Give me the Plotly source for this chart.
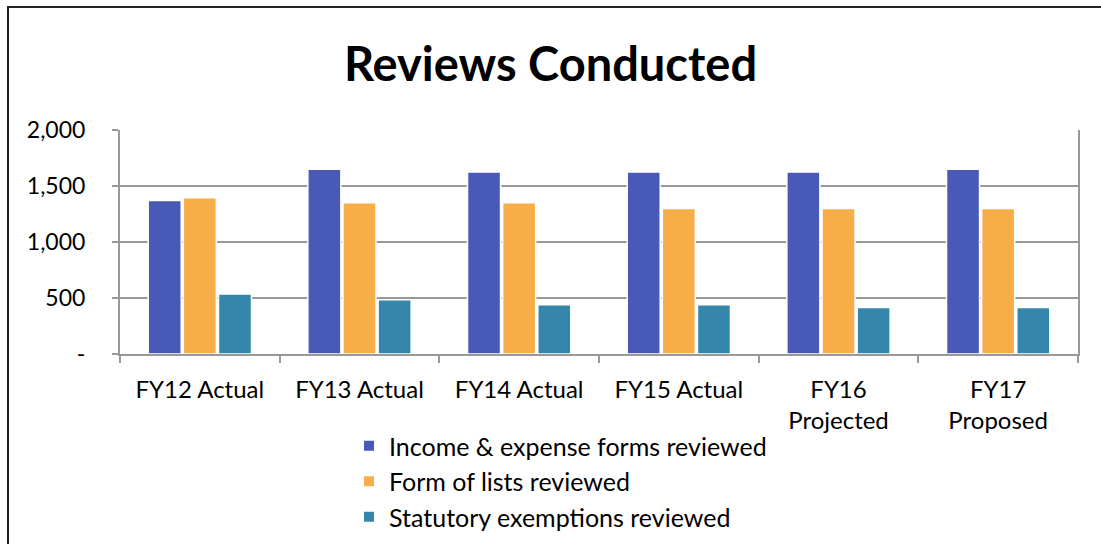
import plotly.graph_objects as go

# Review counts by fiscal year
categories = ["FY12 Actual", "FY13 Actual", "FY14 Actual", "FY15 Actual",
              "FY16<br>Projected", "FY17<br>Proposed"]
income_expense = [1370, 1650, 1625, 1625, 1625, 1650]
form_of_lists = [1395, 1350, 1350, 1300, 1300, 1300]
statutory_exemptions = [535, 485, 440, 440, 415, 415]

y_tick_vals = [0, 500, 1000, 1500, 2000]
y_tick_text = ["-", "500", "1,000", "1,500", "2,000"]

series = [
    ("Income & expense forms reviewed", income_expense, "#4859B8"),
    ("Form of lists reviewed", form_of_lists, "#F7AD48"),
    ("Statutory exemptions reviewed", statutory_exemptions, "#3486AA"),
]

FONT = "Lato, 'Source Sans Pro', Calibri, sans-serif"

fig = go.Figure()
for name, vals, color in series:
    fig.add_trace(go.Bar(
        x=categories, y=vals, name=name,
        marker=dict(color=color, line=dict(color="white", width=1.5)),
    ))

W, H = 1101, 544
L, R, T, B = 120, 23, 130, 190
pw, ph = W - L - R, H - T - B

fig.update_layout(
    width=W, height=H,
    margin=dict(l=L, r=R, t=T, b=B, autoexpand=False),
    paper_bgcolor="white", plot_bgcolor="white",
    font=dict(family=FONT, size=24, color="black"),
    barmode="group", bargap=0.34, bargroupgap=0.06,
    title=dict(text="<b>Reviews Conducted</b>", x=0.5, xanchor="center",
               y=1 - 65 / H, yanchor="middle", yref="container",
               font=dict(family=FONT, size=47, color="black")),
    showlegend=True,
    legend=dict(orientation="v", x=(349 - L) / pw, xanchor="left",
                y=(H - B - 423) / ph, yanchor="top",
                font=dict(family=FONT, size=25, color="black"),
                itemsizing="constant", tracegroupgap=0,
                bgcolor="rgba(0,0,0,0)"),
)

fig.update_xaxes(
    type="category", showgrid=False,
    showline=True, linecolor="#999999", linewidth=2,
    ticks="outside", tickson="boundaries", ticklen=7, tickwidth=2,
    tickcolor="#999999", ticklabelstandoff=13,
    tickfont=dict(family=FONT, size=24, color="black"),
)
fig.update_yaxes(
    range=[0, 2000], tickvals=y_tick_vals, ticktext=y_tick_text,
    showgrid=True, gridcolor="#999999", gridwidth=2,
    showline=True, linecolor="#999999", linewidth=2, mirror=True,
    ticks="outside", ticklen=6, tickwidth=2, tickcolor="#999999",
    ticklabelstandoff=22, zeroline=False,
    tickfont=dict(family=FONT, size=23, color="black"),
)

# Outer chart frame
fig.add_shape(type="rect", xref="paper", yref="paper",
              x0=(8 - L) / pw, x1=(W + 6 - L) / pw,
              y0=(H - B - (H + 6)) / ph, y1=1 + (T - 7) / ph,
              line=dict(color="#222222", width=2), layer="below")

fig.write_html("out.html")
